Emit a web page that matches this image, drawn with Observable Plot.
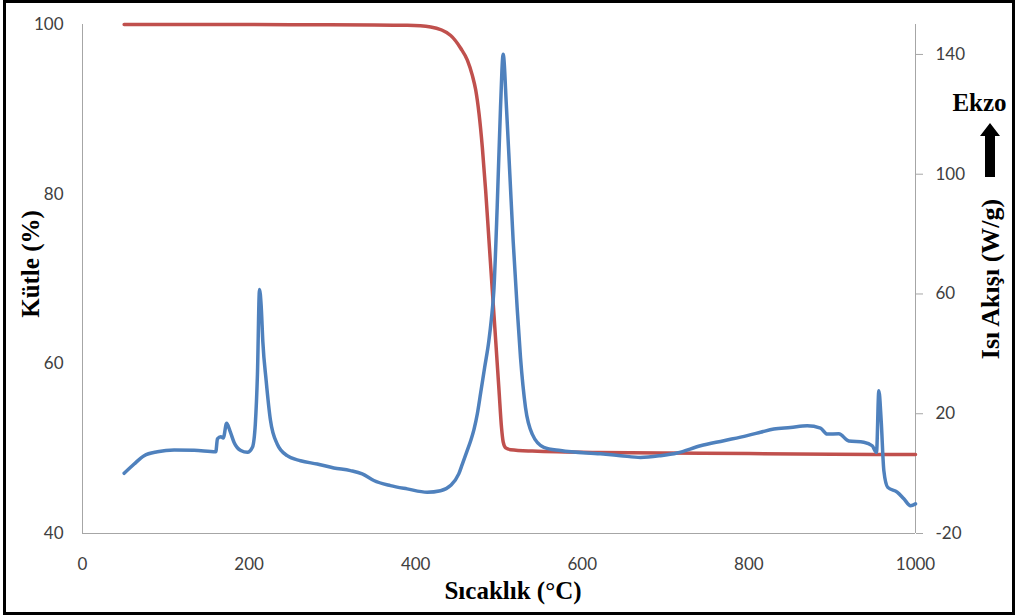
<!DOCTYPE html>
<html><head><meta charset="utf-8">
<script src="https://cdn.jsdelivr.net/npm/d3@7"></script>
<script src="https://cdn.jsdelivr.net/npm/@observablehq/plot@0.6"></script>
<style>
body{margin:0;background:#fff;}
#wrap{position:relative;width:1017px;height:616px;}
#chart{position:absolute;left:0;top:0;}
#frame{position:absolute;left:3px;top:0;width:1012px;height:615px;border:3px solid #000;box-sizing:border-box;pointer-events:none;}
</style></head>
<body><div id="wrap"><div id="chart"></div><div id="frame"></div></div>
<script>
// Mass (TGA), %
const massT = [50, 150, 250, 350, 390, 418, 442, 454, 462, 468, 472, 476, 480, 484, 488, 492, 496, 500, 503, 505, 508, 514, 540, 620, 700, 800, 900, 1000];
const mass  = [100, 100, 99.98, 99.95, 99.9, 99.7, 98.7, 97.2, 95.8, 94, 92.3, 89.5, 85.5, 80.4, 74.5, 68.6, 62.8, 56.9, 52.5, 50.8, 50.1, 49.88, 49.72, 49.55, 49.5, 49.42, 49.35, 49.3];

// Heat flow (DSC), W/g
const heatT = [50, 62, 74, 90, 110, 134, 160, 162, 166, 169, 173, 177, 182, 190, 198, 204, 207.5, 210, 212.5, 214.5, 216.5, 220.5, 225.7, 233.7, 245.7, 261.7, 281.8, 301.7, 321.7, 335.8, 349.7, 369.7, 389.8, 413.8, 429.8, 441.8, 451.7, 456, 461.8, 466, 470, 474, 478, 482.8, 487.8, 490.8, 493.8, 497.8, 501.8, 505, 509, 513, 517, 521.8, 525.8, 531.8, 539.9, 553.8, 573.8, 621.8, 645.9, 669.9, 693.9, 713.9, 741.9, 769.9, 797.9, 813.9, 829.9, 849.9, 870, 886, 894, 907.9, 919.9, 937.9, 948, 953.2, 956, 958.8, 962, 966.7, 978, 986, 994, 1000];
const heat  = [0.1, 3.2, 6, 7.3, 7.9, 7.8, 7.3, 11.6, 12.3, 11.9, 16.8, 14.3, 10.4, 7.7, 7.1, 8.8, 16.7, 33, 61.5, 56, 44, 31, 17.7, 9.9, 6, 4.3, 3.2, 1.9, 1.0, -0.1, -2.3, -4, -5.1, -6.2, -5.7, -4, -0.1, 3.2, 7.7, 11, 14.8, 20, 27, 35.5, 44.3, 51.5, 61, 88.8, 122.1, 140.1, 122.1, 100, 77.7, 55.4, 38.8, 22.1, 13.2, 8.8, 7.7, 6.6, 6, 5.4, 6, 6.9, 9.3, 11, 12.7, 13.8, 14.9, 15.4, 16, 15.2, 13.2, 13.3, 10.9, 10.5, 9.3, 7.1, 27.7, 17.7, 1, -4.6, -6.2, -8.4, -10.7, -10.1];

const xTicks = [0, 200, 400, 600, 800, 1000];
const leftTicks = [40, 60, 80, 100];
const rightTicks = [-20, 20, 60, 100, 140];
const xLabel = "Sıcaklık (°C)";
const leftLabel = "Kütle (%)";
const rightLabel = "Isı Akışı (W/g)";
const noteLabel = "Ekzo";

const L0 = 40, L1 = 100, R0 = -20, R1 = 150;
const toLeft = v => L0 + (v - R0) * (L1 - L0) / (R1 - R0);
const toRight = y => R0 + (y - L0) * (R1 - R0) / (L1 - L0);

const massData = massT.map((t, i) => ({t, m: mass[i]}));
const heatData = heatT.map((t, i) => ({t, h: toLeft(heat[i])}));

const serif = "'Liberation Serif', 'Times New Roman', serif";
const axisGray = "#a6a6a6";

const chart = Plot.plot({
  width: 1017, height: 616,
  marginLeft: 82, marginRight: 102, marginTop: 24, marginBottom: 83,
  style: {fontFamily: "Lato, sans-serif", fontSize: "17px", color: "#404040", background: "transparent", overflow: "visible"},
  x: {domain: [0, 1000]},
  y: {domain: [L0, L1]},
  marks: [
    Plot.ruleX([0, 1000], {stroke: axisGray, strokeWidth: 1}),
    Plot.ruleY([40], {stroke: axisGray, strokeWidth: 1}),
    Plot.axisX({ticks: xTicks, tickFormat: d => String(d), tickSize: 0, tickPadding: 24, label: null}),
    Plot.axisY({ticks: leftTicks, tickFormat: d => String(d), tickSize: 0, tickPadding: 19, label: null}),
    Plot.axisY({anchor: "right", ticks: rightTicks.map(toLeft), tickFormat: d => String(Math.round(toRight(d))), tickSize: 7, tickPadding: 13, stroke: axisGray, label: null}),
    Plot.line(massData, {x: "t", y: "m", stroke: "#C0504D", strokeWidth: 3.5, curve: "monotone-x", strokeLinecap: "round", strokeLinejoin: "round"}),
    Plot.line(heatData, {x: "t", y: "h", stroke: "#4F81BD", strokeWidth: 3.5, curve: "monotone-x", strokeLinecap: "round", strokeLinejoin: "round"}),
    Plot.text([xLabel], {text: d => d, frameAnchor: "bottom", textAnchor: "middle", lineAnchor: "middle", dx: 14, dy: 57, fontFamily: serif, fontWeight: "bold", fontSize: 25, fill: "#000"}),
    Plot.text([leftLabel], {text: d => d, frameAnchor: "left", textAnchor: "middle", lineAnchor: "middle", rotate: -90, dx: -52, dy: -15, fontFamily: serif, fontWeight: "bold", fontSize: 25, fill: "#000"}),
    Plot.text([rightLabel], {text: d => d, frameAnchor: "right", textAnchor: "middle", lineAnchor: "middle", rotate: -90, dx: 75, dy: 0, fontFamily: serif, fontWeight: "bold", fontSize: 26, fill: "#000"}),
    Plot.text([noteLabel], {text: d => d, frameAnchor: "top-right", textAnchor: "middle", lineAnchor: "middle", dx: 64, dy: 78, fontFamily: serif, fontWeight: "bold", fontSize: 25, fill: "#000"})
  ]
});
d3.select(chart).append("path")
  .attr("d", "M990,123 L1000,136 L995,136 L995,177 L985,177 L985,136 L980,136 Z")
  .attr("fill", "#000");
document.getElementById("chart").appendChild(chart);
</script>
</body></html>
